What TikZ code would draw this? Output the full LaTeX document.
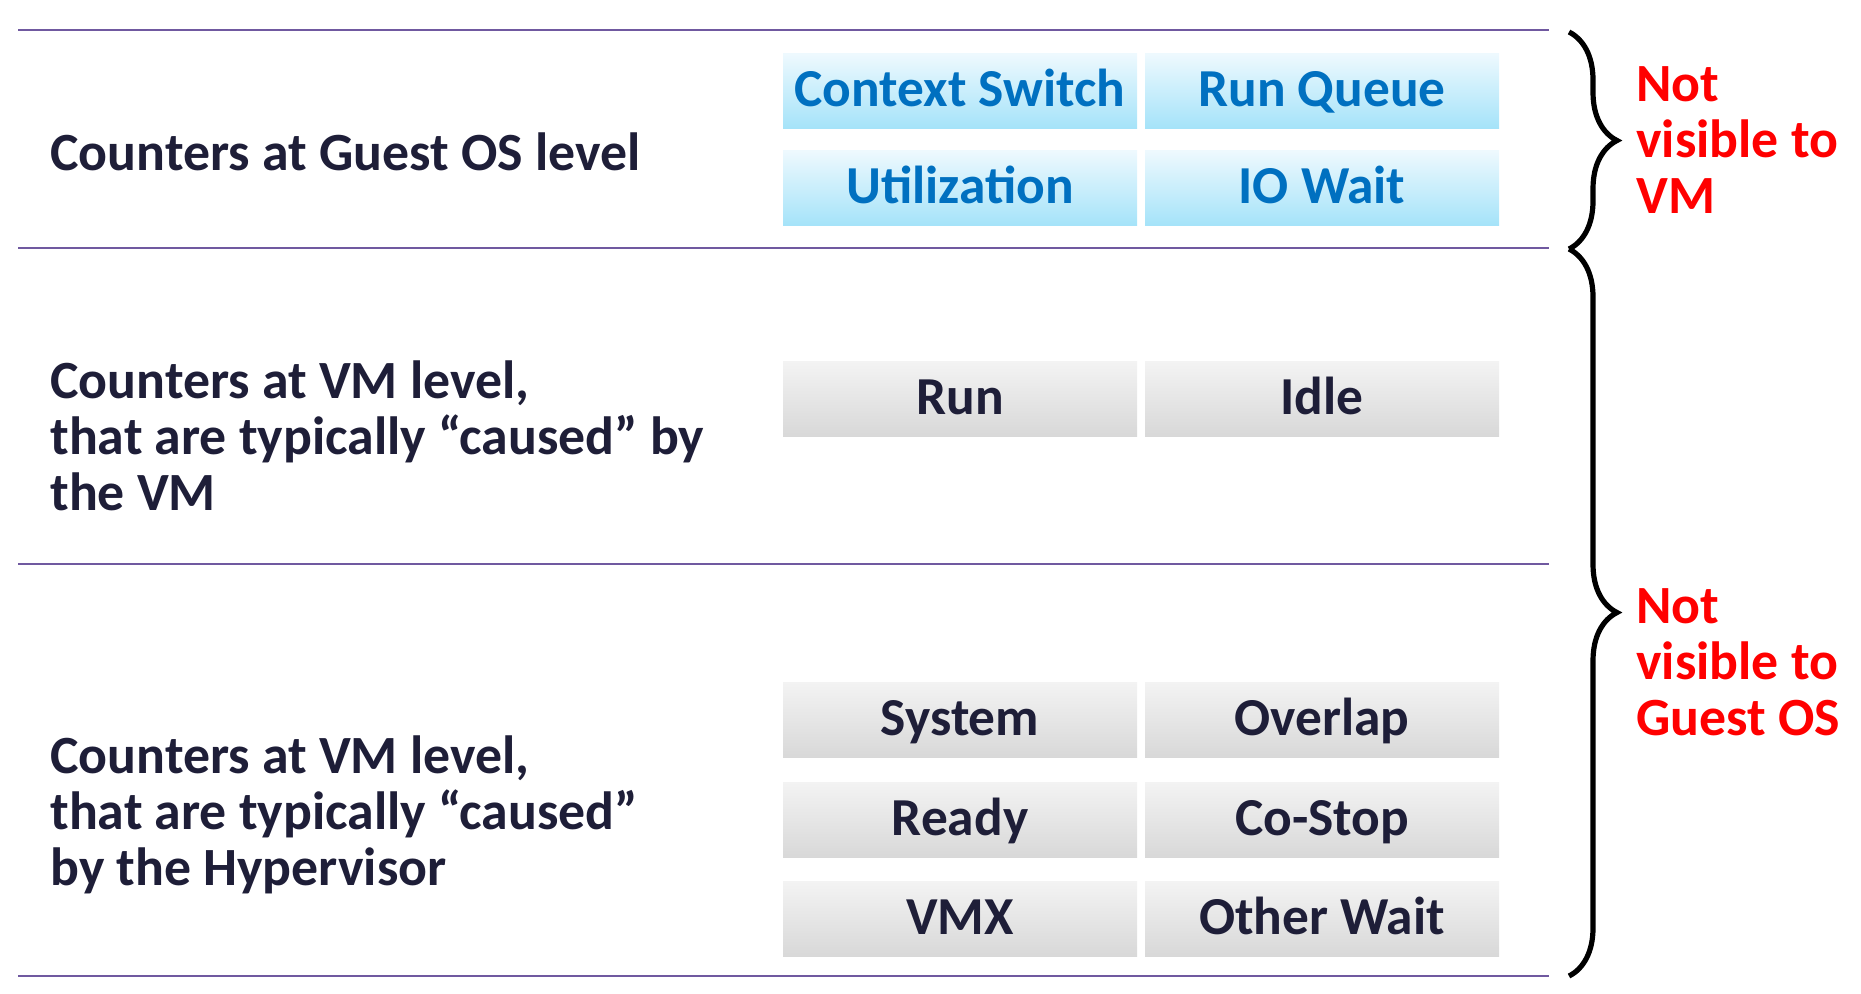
\documentclass[tikz,border=0pt]{standalone}
\usepackage{fontspec}
\setmainfont{Carlito}
\usetikzlibrary{
  positioning,
  decorations.pathreplacing
}
\usepackage{xcolor}
\definecolor{rule}{HTML}{7059A0}
\definecolor{ink}{HTML}{1E1E38}
\definecolor{guest}{HTML}{0070C0}
\definecolor{alert}{HTML}{FF0000}
\definecolor{skytop}{HTML}{EEF9FE}
\definecolor{skybot}{HTML}{A5E3F9}
\definecolor{greytop}{HTML}{F3F3F3}
\definecolor{greybot}{HTML}{D8D8D8}

\begin{document}
\begin{tikzpicture}[x=0.5pt, y=-0.5pt,
  cell/.style={minimum width=177pt, minimum height=37.5pt, inner sep=0pt,
               text height=15pt, text depth=0pt,
               font=\fontsize{26.7}{28}\selectfont\bfseries},
  oscell/.style={cell, top color=skytop, bottom color=skybot, text=guest},
  vmcell/.style={cell, top color=greytop, bottom color=greybot, text=ink},
  level/.style={anchor=west, align=left, text=ink, inner sep=0pt,
                font=\fontsize{26.9}{28}\selectfont\bfseries},
  note/.style={level, text=alert},
  sep/.style={draw=rule, line width=1pt},
  curly/.style={draw, line width=2.6pt, decorate,
                decoration={brace, amplitude=24pt}},
]
  \useasboundingbox (0,0) rectangle (1861,993);

  % separators
  \coordinate (r0w) at (18,30);   \coordinate (r0e) at (1549,30);
  \coordinate (r1w) at (18,248);  \coordinate (r1e) at (1549,248);
  \coordinate (r2w) at (18,564);  \coordinate (r2e) at (1549,564);
  \coordinate (r3w) at (18,976);  \coordinate (r3e) at (1549,976);
  \draw[sep] (r0w) -- (r0e);
  \draw[sep] (r1w) -- (r1e);
  \draw[sep] (r2w) -- (r2e);
  \draw[sep] (r3w) -- (r3e);

  % row labels
  \node[level] (guestrow) at (50,152) {Counters at Guest OS level};
  \node[level] (vmrow) at (50,436) {Counters at VM level,\\
    that are typically “caused” by\\ the VM};
  \node[level] (hyprow) at (50,815) {Counters at VM level,\\
    that are typically “caused”\\ by the Hypervisor};

  % guest OS counters
  \node[oscell] (ctxsw) at (960,91) {Context Switch};
  \node[oscell] (runq) at (1322,91) {Run Queue};
  \node[oscell] (util) at (960,188) {Utilization};
  \node[oscell] (iowait) at (1322,188) {IO Wait};

  % VM counters
  \node[vmcell] (run) at (960,399) {Run};
  \node[vmcell] (idle) at (1322,399) {Idle};

  % hypervisor counters
  \node[vmcell] (system) at (960,720) {System};
  \node[vmcell] (overlap) at (1322,720) {Overlap};
  \node[vmcell] (ready) at (960,820) {Ready};
  \node[vmcell] (costop) at (1322,820) {Co-Stop};
  \node[vmcell] (vmx) at (960,919) {VMX};
  \node[vmcell] (otherwait) at (1322,919) {Other Wait};

  % braces
  \coordinate (b0) at (1569,32);
  \coordinate (b1) at (1569,249);
  \coordinate (b2) at (1569,976);
  \draw[curly] (b0) -- (b1);
  \draw[curly] (b1) -- (b2);

  \node[note] (novm) at (1636,140) {Not\\ visible to\\ VM};
  \node[note] (noguest) at (1636,662) {Not\\ visible to\\ Guest OS};
\end{tikzpicture}
\end{document}
